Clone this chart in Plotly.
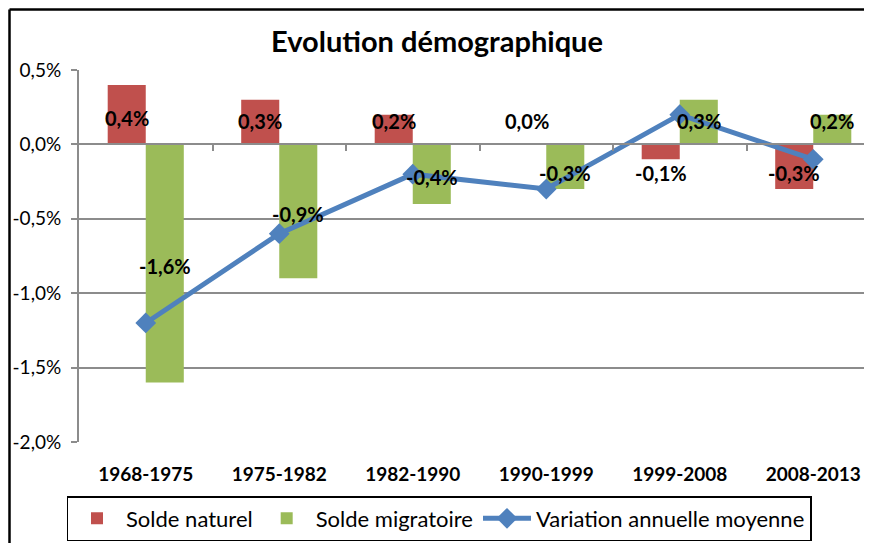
import plotly.graph_objects as go

periods = ["1968-1975", "1975-1982", "1982-1990", "1990-1999", "1999-2008", "2008-2013"]
solde_naturel = [0.4, 0.3, 0.2, 0.0, -0.1, -0.3]
solde_migratoire = [-1.6, -0.9, -0.4, -0.3, 0.3, 0.2]
variation = [-1.2, -0.6, -0.2, -0.3, 0.2, -0.1]
y_ticks = [0.5, 0.0, -0.5, -1.0, -1.5, -2.0]

RED = "#C0504D"
GREEN = "#9BBB59"
BLUE = "#4F81BD"
GRID = "#8C8C8C"
FONT = "Lato"

# the page body has an 8px margin on every side; keep the figure inside the window
OFF = 8
W, H = 872 - 2 * OFF, 551 - 2 * OFF
ML, MT = 79 - OFF, 70 - OFF
MB = H - (442 - OFF)
PW, PH = W - ML, H - MT - MB
CAT_PX = 133.5
X_RANGE = [-0.5, -0.5 + PW / CAT_PX]

BARGAP = 0.43
xs = list(range(len(periods)))


def fmt(v):
    return ("%.1f%%" % v).replace(".", ",")


fig = go.Figure()
fig.add_trace(go.Bar(x=xs, y=solde_naturel, name="Solde naturel", marker_color=RED,
                     marker_line_width=0))
fig.add_trace(go.Bar(x=xs, y=solde_migratoire, name="Solde migratoire", marker_color=GREEN,
                     marker_line_width=0))
fig.add_trace(go.Scatter(x=xs, y=variation, name="Variation annuelle moyenne",
                         mode="lines+markers", xaxis="x2",
                         line=dict(color=BLUE, width=5),
                         marker=dict(symbol="diamond", size=16, color=BLUE)))

# data labels (Excel "centre" style)
half = (1 - BARGAP) / 2


def label_y(v):
    c = v / 2
    if v >= 0:
        return max(c, 0.175)
    return min(c, -0.175)


for series, off in ((solde_naturel, -half / 2), (solde_migratoire, half / 2)):
    for i, v in enumerate(series):
        fig.add_annotation(x=i + off, y=label_y(v), text=fmt(v), showarrow=False,
                           yshift=-3, font=dict(family=FONT, size=20, color="black", weight="bold"))

# outer chart border: only left and top edges are visible in the reference
bx = (1.5 - ML) / PW
by = (PH + MT - 1.5) / PH
border = dict(color="black", width=2.5)
fig.add_shape(type="line", xref="paper", yref="paper", x0=bx, x1=bx,
              y0=-(MB + 5) / PH, y1=by, line=border, layer="below")
fig.add_shape(type="line", xref="paper", yref="paper", x0=bx, x1=(W - ML) / PW,
              y0=by, y1=by, line=border, layer="below")

fig.update_layout(
    width=W, height=H,
    margin=dict(l=ML, r=0, t=MT, b=MB, autoexpand=False),
    paper_bgcolor="white", plot_bgcolor="white",
    barmode="group", bargap=BARGAP, bargroupgap=0,
    font=dict(family=FONT, color="black"),
    title=dict(text="Evolution démographique", xref="container", x=(437 - OFF) / W,
               xanchor="center", yref="container", y=1 - (42 - OFF) / H, yanchor="middle",
               font=dict(family=FONT, size=29, color="black", weight="bold")),
    xaxis=dict(range=X_RANGE, tickvals=xs, ticktext=periods, showgrid=False,
               showline=False, zeroline=False, ticks="", ticklabelstandoff=19,
               tickfont=dict(family=FONT, size=19, color="black", weight="bold")),
    xaxis2=dict(range=X_RANGE, overlaying="x", anchor="free", position=0.8,
                side="bottom", showline=True, linecolor=GRID, linewidth=2,
                ticks="outside", ticklen=6, tickwidth=2, tickcolor=GRID,
                tickvals=[i + 0.5 for i in xs], showticklabels=False, showgrid=False,
                zeroline=False),
    yaxis=dict(range=[-2.0, 0.5], tickvals=y_ticks, ticktext=[fmt(v) for v in y_ticks],
               showgrid=True, gridcolor=GRID, gridwidth=2, zeroline=False,
               showline=True, linecolor=GRID, linewidth=2, ticks="outside", ticklen=6,
               tickwidth=2, tickcolor=GRID, ticklabelstandoff=6,
               tickfont=dict(family=FONT, size=19, color="black")),
    legend=dict(orientation="h", xref="container", x=(439 - OFF) / W, xanchor="center",
                yref="container", y=1 - (496 - OFF) / H, yanchor="top",
                bordercolor="black", borderwidth=1.5, bgcolor="white",
                itemwidth=48,
                font=dict(family=FONT, size=22, color="black")),
    showlegend=True,
)

fig.write_html("out.html")
